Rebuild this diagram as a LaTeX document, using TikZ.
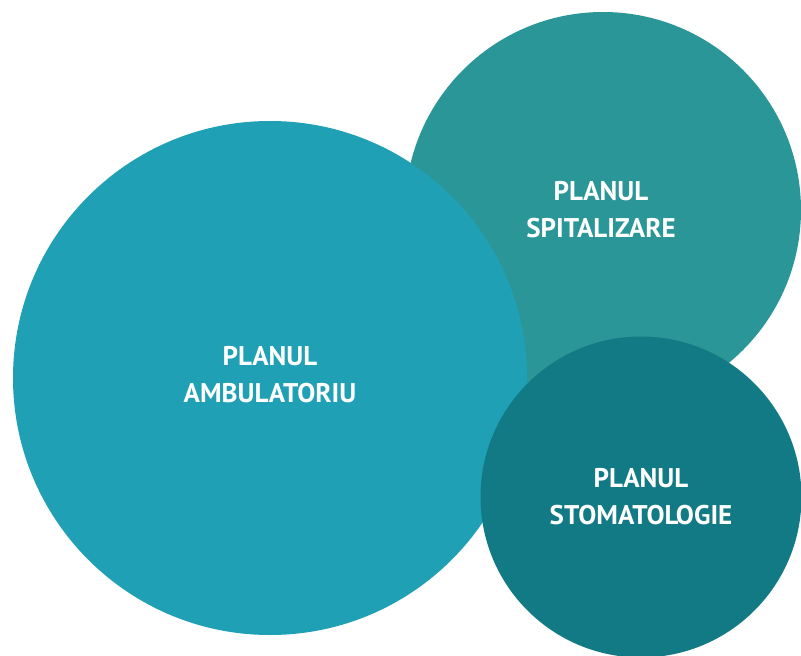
\documentclass[tikz,border=0pt]{standalone}
\usepackage{fontspec}
\setmainfont{PT Sans}
\definecolor{cbig}{HTML}{1FA0B4}
\definecolor{cteal}{HTML}{2A9697}
\definecolor{cdark}{HTML}{127A85}
\begin{document}
\begin{tikzpicture}[x=1pt,y=-1pt,
  lbl/.style={text=white,font=\bfseries\fontsize{27}{37}\selectfont,align=center}]
\useasboundingbox (0,0) rectangle (801,656);
\begin{scope}
\clip (0,0) rectangle (801,656);
\fill[cteal] (603,210) circle (198);
\fill[cbig] (270,378) circle (257);
\fill[cdark] (641,497) circle (160.5);
\end{scope}
\node[lbl] (amb) at (270,375) {PLANUL\\AMBULATORIU};
\node[lbl] (spit) at (601,210) {PLANUL\\SPITALIZARE};
\node[lbl] (stom) at (641,497) {PLANUL\\STOMATOLOGIE};
\end{tikzpicture}
\end{document}
